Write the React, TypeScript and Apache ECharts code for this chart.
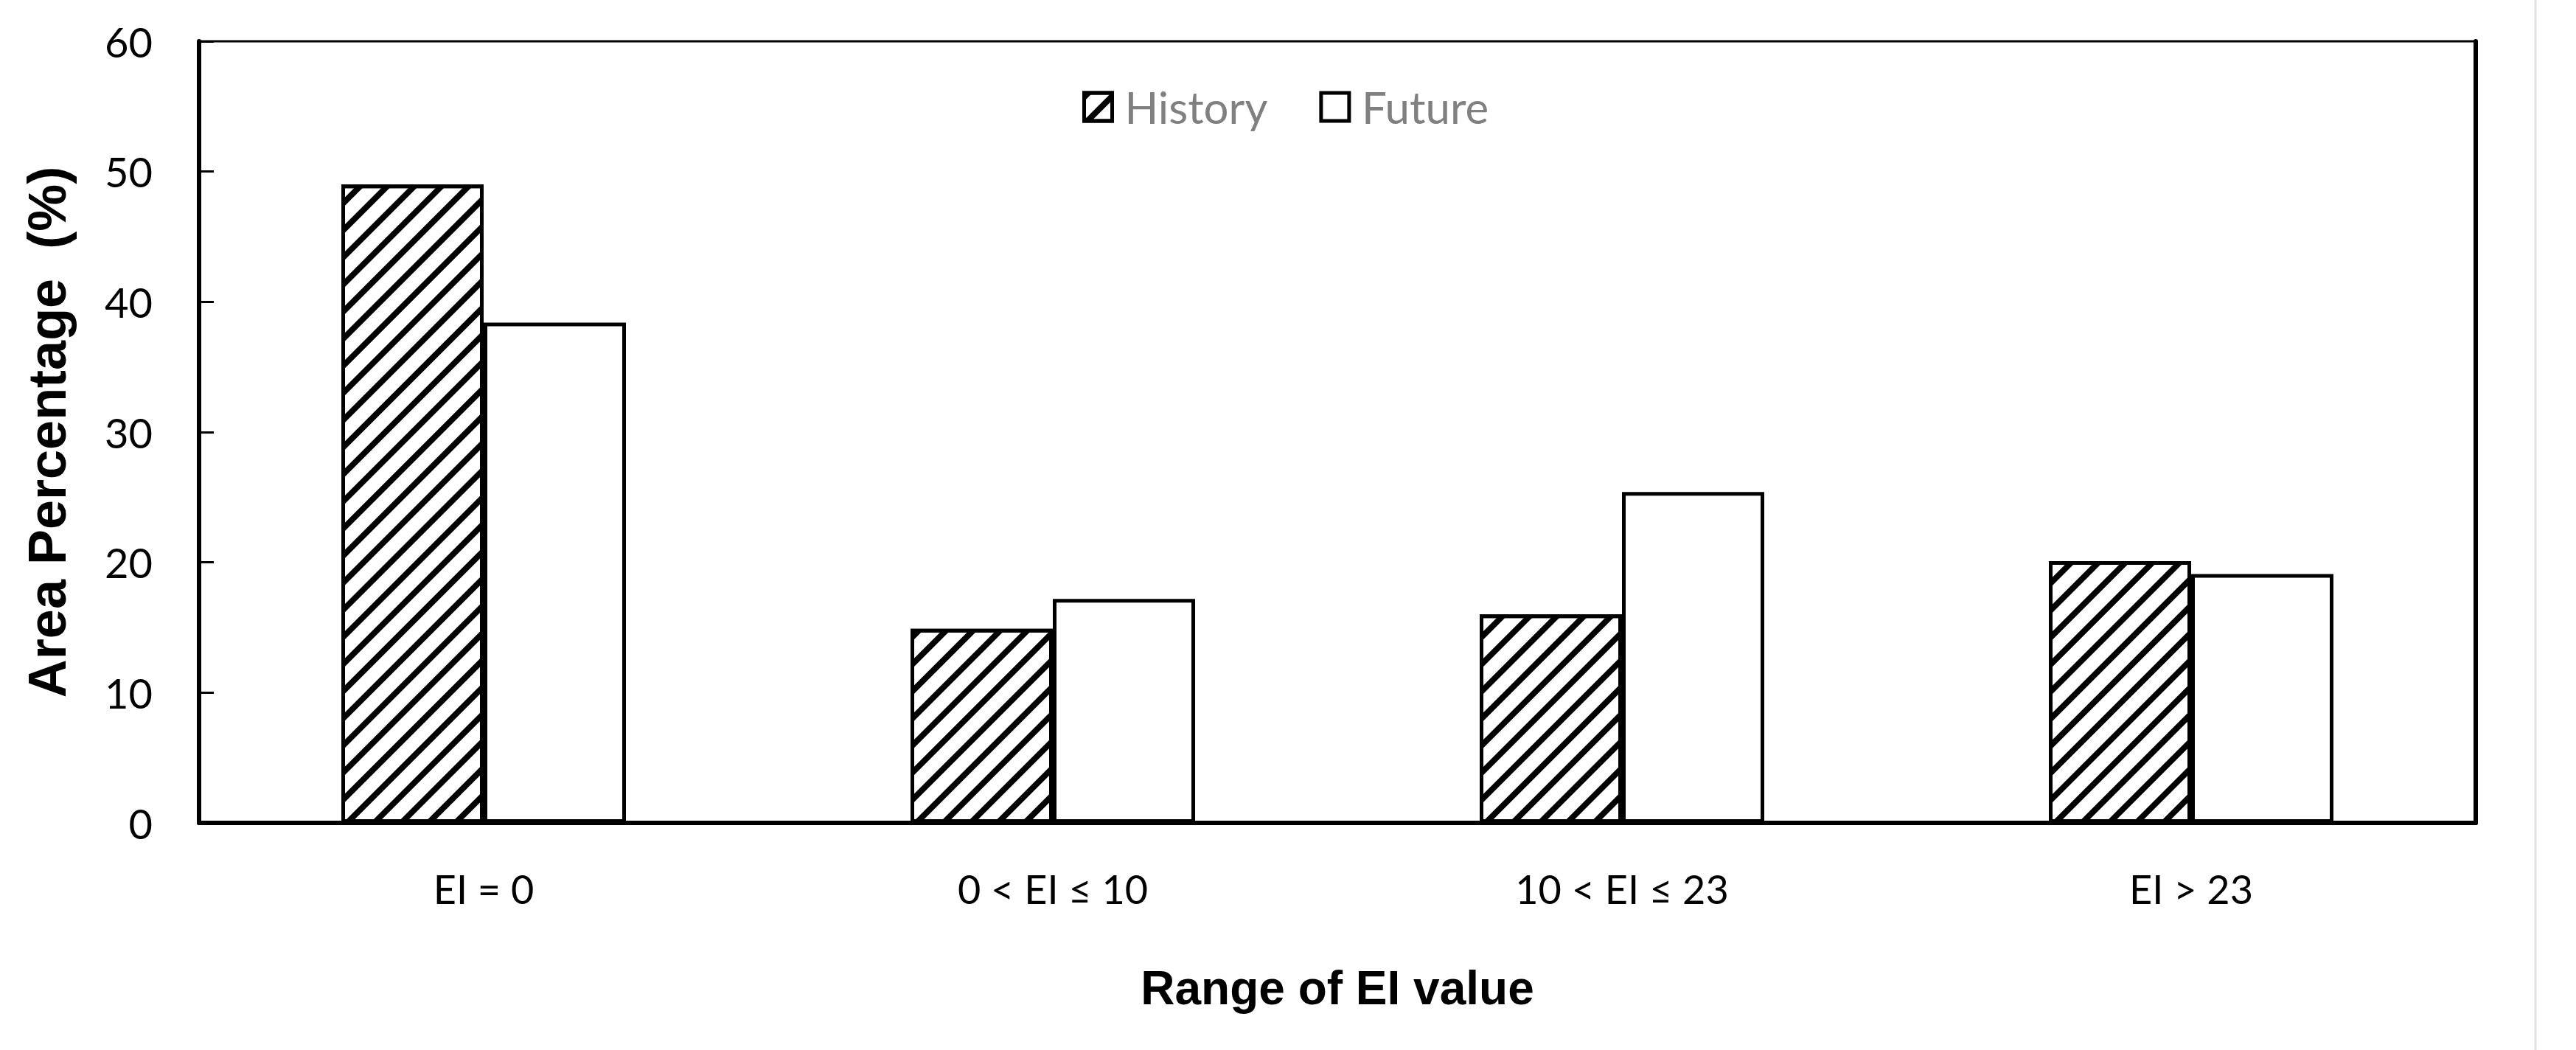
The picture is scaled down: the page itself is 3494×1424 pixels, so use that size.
import React, { useEffect, useRef } from "react";
import * as echarts from "echarts";

const categories = ["EI = 0", "0 < EI ≤ 10", "10 < EI ≤ 23", "EI > 23"];
const seriesNames = ["History", "Future"];
const historyValues = [49.0, 14.9, 16.0, 20.1];
const futureValues = [38.4, 17.2, 25.4, 19.1];
const yMin = 0;
const yMax = 60;
const yInterval = 10;

const W = 3494;
const H = 1424;

export default function App() {
  const ref = useRef<HTMLDivElement>(null);
  useEffect(() => {
    document.body.style.margin = "0";
    const chart = echarts.init(ref.current!, null, { renderer: "svg" });
    const hatch = {
      symbol: "rect",
      symbolSize: 1,
      color: "#000",
      backgroundColor: "#fff",
      dashArrayX: [1, 0],
      dashArrayY: [8, 18],
      rotation: -Math.PI / 4,
    };
    chart.setOption({
      animation: false,
      backgroundColor: "#fff",
      grid: {
        left: 270,
        right: 136,
        top: 56,
        bottom: 308,
        show: true,
        borderColor: "#000",
        borderWidth: 3,
      },
      legend: {
        data: seriesNames,
        top: 110,
        left: 1463,
        icon: "rect",
        itemWidth: 38,
        itemHeight: 38,
        itemGap: 70,
        textStyle: {
          color: "#808080",
          fontFamily: "Lato",
          fontSize: 60,
          padding: [0, 0, 0, 12],
        },
        itemStyle: { borderColor: "#000", borderWidth: 5 },
      },
      xAxis: {
        type: "category",
        data: categories,
        axisLine: { lineStyle: { color: "#000", width: 6 } },
        axisTick: { show: false },
        axisLabel: {
          color: "#000",
          fontFamily: "Lato",
          fontSize: 54,
          margin: 62,
        },
        name: "Range of EI value",
        nameLocation: "middle",
        nameGap: 192,
        nameTextStyle: {
          color: "#000",
          fontFamily: "Liberation Sans",
          fontWeight: "bold",
          fontSize: 64,
        },
      },
      yAxis: [
        {
          type: "value",
          min: yMin,
          max: yMax,
          interval: yInterval,
          axisLine: { show: true, lineStyle: { color: "#000", width: 6 } },
          axisTick: {
            show: true,
            inside: true,
            length: 20,
            lineStyle: { color: "#000", width: 3 },
          },
          splitLine: { show: false },
          axisLabel: {
            color: "#000",
            fontFamily: "Lato",
            fontSize: 56,
            margin: 63,
          },
          name: "Area Percentage  (%)",
          nameLocation: "middle",
          nameGap: 170,
          nameTextStyle: {
            color: "#000",
            fontFamily: "Liberation Sans",
            fontWeight: "bold",
            fontSize: 72,
          },
        },
        {
          type: "value",
          position: "right",
          min: yMin,
          max: yMax,
          interval: yInterval,
          axisLine: { show: true, lineStyle: { color: "#000", width: 6 } },
          axisTick: { show: false },
          axisLabel: { show: false },
          splitLine: { show: false },
        },
      ],
      series: [
        {
          name: seriesNames[0],
          type: "bar",
          data: historyValues,
          barGap: "0%",
          barCategoryGap: "50%",
          itemStyle: {
            color: "#fff",
            borderColor: "#000",
            borderWidth: 5,
            decal: hatch,
          },
        },
        {
          name: seriesNames[1],
          type: "bar",
          data: futureValues,
          barGap: "0%",
          barCategoryGap: "50%",
          itemStyle: { color: "#fff", borderColor: "#000", borderWidth: 5 },
        },
      ],
      graphic: [
        {
          type: "line",
          shape: { x1: 3439, y1: 0, x2: 3439, y2: H },
          style: { stroke: "#e3e3e3", lineWidth: 3 },
        },
      ],
    });
    return () => chart.dispose();
  }, []);
  return <div ref={ref} style={{ width: W, height: H }} />;
}
